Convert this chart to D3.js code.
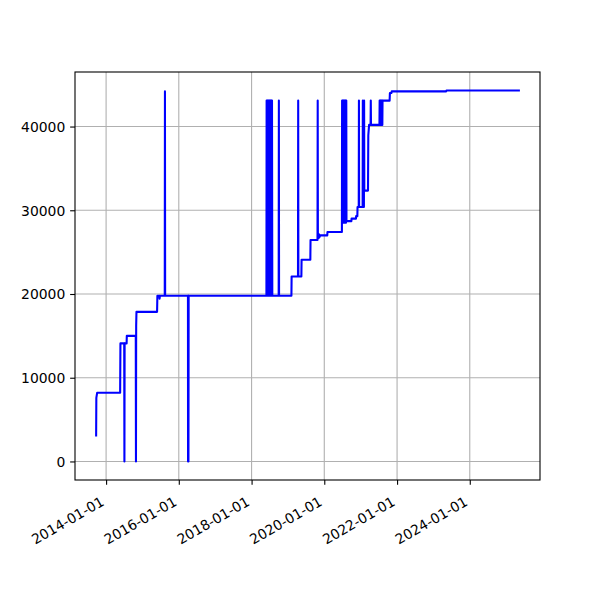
<!DOCTYPE html>
<html>
<head>
<meta charset="utf-8">
<script src="https://cdn.jsdelivr.net/npm/d3@7"></script>
<style>
  html, body { margin: 0; padding: 0; background: #ffffff; }
  svg { display: block; }
  text { font-family: "DejaVu Sans", sans-serif; }
</style>
</head>
<body>
<svg id="chart" width="600" height="600"></svg>
<script>
// ---- data ----
const dates = [
  "2013-09-23","2013-09-25","2013-10-03",
  "2014-05-22","2014-05-25",
  "2014-07-02","2014-07-04","2014-07-06",
  "2014-07-26","2014-07-28",
  "2014-10-26","2014-10-28","2014-10-30","2014-11-02",
  "2015-05-28","2015-05-31","2015-06-20","2015-06-22","2015-06-26",
  "2015-08-13","2015-08-15","2015-08-17",
  "2016-04-02","2016-04-03","2016-04-05","2016-04-07","2016-04-09",
  "2018-05-30",
  "2018-06-01","2018-06-04","2018-06-07","2018-06-10","2018-06-13","2018-06-16",
  "2018-06-19","2018-06-22","2018-06-25","2018-06-28","2018-07-01","2018-07-04",
  "2018-07-07","2018-07-10","2018-07-13","2018-07-16","2018-07-19","2018-07-22",
  "2018-07-25","2018-07-28",
  "2018-09-30","2018-10-02","2018-10-04",
  "2019-02-05","2019-02-07",
  "2019-04-12","2019-04-14","2019-04-16",
  "2019-05-16","2019-05-18",
  "2019-08-14","2019-08-16",
  "2019-10-25","2019-10-27","2019-10-29","2019-11-03","2019-11-07","2019-11-11",
  "2019-11-15","2019-11-20",
  "2020-01-31","2020-02-02",
  "2020-06-26",
  "2020-06-28","2020-07-01","2020-07-04","2020-07-07","2020-07-10","2020-07-13",
  "2020-07-16","2020-07-19","2020-07-22","2020-07-25","2020-07-28","2020-07-31",
  "2020-08-03","2020-08-06","2020-08-09","2020-08-11",
  "2020-09-29","2020-10-01",
  "2020-11-14","2020-11-16",
  "2020-11-28","2020-11-30",
  "2020-12-12","2020-12-14","2020-12-16",
  "2021-01-20","2021-01-22","2021-01-24",
  "2021-02-02","2021-02-04","2021-02-06",
  "2021-03-15","2021-03-18","2021-03-26",
  "2021-04-10","2021-04-12","2021-04-14",
  "2021-07-08",
  "2021-07-10","2021-07-13","2021-07-16","2021-07-19","2021-07-22","2021-07-25",
  "2021-07-28","2021-07-31","2021-08-03","2021-08-06","2021-08-08",
  "2021-10-18","2021-10-21","2021-11-05","2021-11-08",
  "2023-05-10","2023-05-12",
  "2025-05-08"
];
const values = [
  3100, 7600, 8200,
  8200, 14100,
  14100, 0, 14100,
  14100, 15000,
  15000, 0, 16200, 17870,
  17870, 19800, 19800, 19450, 19800,
  19800, 44200, 19800,
  19800, 0, 19800, 0, 19800,
  19800,
  43100, 19800, 43100, 19800, 43100, 19800,
  43100, 19800, 43100, 19800, 43100, 19800,
  43100, 19800, 43100, 19800, 43100, 19800,
  43100, 19800,
  19800, 43100, 19800,
  19800, 22100,
  22100, 43100, 22100,
  22100, 24100,
  24100, 26450,
  26450, 43100, 26600, 27200, 26700, 27100,
  26800, 27000,
  27000, 27400,
  27400,
  43100, 28500, 43100, 28500, 43100, 28500,
  43100, 28500, 43100, 28500, 43100, 28500,
  43100, 28500, 43100, 28700,
  28700, 29000,
  29000, 29300,
  29300, 30400,
  30400, 43100, 30400,
  30400, 43100, 30400,
  30400, 43100, 32350,
  32350, 38950, 40200,
  40200, 43100, 40200,
  40200,
  43100, 40200, 43100, 40200, 43100, 40200,
  43100, 40200, 43100, 40200, 43100,
  43100, 44000, 44000, 44200,
  44200, 44300,
  44300
];
const xTickLabels = ["2014-01-01","2016-01-01","2018-01-01","2020-01-01","2022-01-01","2024-01-01"];
const yTickValues = [0, 10000, 20000, 30000, 40000];

// ---- layout ----
const W = 600, H = 600;
const mL = 75, mR = 540, mT = 72, mB = 480;
const parse = d3.utcParse("%Y-%m-%d");
const data = dates.map((d, i) => ({ t: parse(d), v: values[i] }));

const tExt = d3.extent(data, d => +d.t);
const tPad = (tExt[1] - tExt[0]) * 0.05;
const vExt = d3.extent(data, d => d.v);
const vPad = (vExt[1] - vExt[0]) * 0.05;

const x = d3.scaleUtc().domain([new Date(tExt[0] - tPad), new Date(tExt[1] + tPad)]).range([mL, mR]);
const y = d3.scaleLinear().domain([vExt[0] - vPad, vExt[1] + vPad]).range([mB, mT]);

const svg = d3.select("#chart");
svg.append("rect").attr("width", W).attr("height", H).attr("fill", "#ffffff");

const xTicks = xTickLabels.map(parse);
const gridColor = "#b0b0b0";
const gridW = 1.1;

// grid
const grid = svg.append("g");
grid.selectAll("line.gx").data(xTicks).join("line")
  .attr("x1", d => x(d)).attr("x2", d => x(d))
  .attr("y1", mT).attr("y2", mB)
  .attr("stroke", gridColor).attr("stroke-width", gridW);
grid.selectAll("line.gy").data(yTickValues).join("line")
  .attr("x1", mL).attr("x2", mR)
  .attr("y1", d => y(d)).attr("y2", d => y(d))
  .attr("stroke", gridColor).attr("stroke-width", gridW);

// line
svg.append("defs").append("clipPath").attr("id", "clip")
  .append("rect").attr("x", mL).attr("y", mT).attr("width", mR - mL).attr("height", mB - mT);

const line = d3.line().x(d => x(d.t)).y(d => y(d.v));
svg.append("path").datum(data)
  .attr("clip-path", "url(#clip)")
  .attr("d", line)
  .attr("fill", "none")
  .attr("stroke", "#0000ff")
  .attr("stroke-width", 2.08)
  .attr("stroke-linejoin", "round")
  .attr("stroke-linecap", "square");

// axes frame
svg.append("rect")
  .attr("x", mL).attr("y", mT).attr("width", mR - mL).attr("height", mB - mT)
  .attr("fill", "none").attr("stroke", "#000").attr("stroke-width", 1.1);

const fontSize = 13.9;
const tickLen = 4.86;

// y axis
const yAxis = d3.axisLeft(y).tickValues(yTickValues).tickSize(tickLen).tickPadding(4.86).tickFormat(d3.format("d"));
const gy = svg.append("g").attr("transform", `translate(${mL},0)`).call(yAxis);
gy.select(".domain").remove();
gy.selectAll(".tick line").attr("stroke", "#000").attr("stroke-width", 1.1);
gy.selectAll(".tick text")
  .attr("font-size", fontSize).attr("fill", "#000")
  .attr("font-family", "DejaVu Sans").attr("dy", "0.35em");

// x axis
const xAxis = d3.axisBottom(x).tickValues(xTicks).tickSize(tickLen).tickFormat(d3.utcFormat("%Y-%m-%d"));
const gx = svg.append("g").attr("transform", `translate(0,${mB})`).call(xAxis);
gx.select(".domain").remove();
gx.selectAll(".tick line").attr("stroke", "#000").attr("stroke-width", 1.1);
gx.selectAll(".tick text")
  .attr("font-size", fontSize).attr("fill", "#000")
  .attr("font-family", "DejaVu Sans")
  .attr("text-anchor", "end")
  .attr("x", 0).attr("y", 0).attr("dy", null)
  .attr("transform", "translate(-1.5,24.5) rotate(-30)");
</script>
</body>
</html>
